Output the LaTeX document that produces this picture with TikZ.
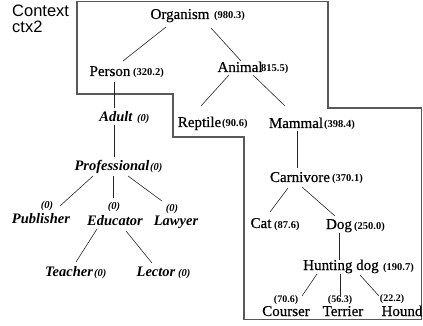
\documentclass[tikz,border=0pt]{standalone}
\usepackage{fontspec}
\setmainfont{Liberation Serif}
\newfontfamily\wordfont[FakeBold=0.5]{Liberation Serif}
\newfontfamily\ctxfont{Liberation Sans}
\begin{document}
\begin{tikzpicture}[x=1pt,y=-1pt,
  word/.style={anchor=base,inner sep=0pt,font=\wordfont\fontsize{15}{15}\selectfont},
  iword/.style={anchor=base,inner sep=0pt,font=\fontsize{14.5}{15}\selectfont\bfseries\itshape},
  weight/.style={anchor=base west,inner sep=0pt,font=\fontsize{10.5}{11}\selectfont\bfseries},
  weightc/.style={weight,anchor=base,font=\fontsize{10}{10}\selectfont\bfseries},
  iweight/.style={anchor=base west,inner sep=0pt,font=\fontsize{10.5}{11}\selectfont\bfseries\itshape},
  iweightc/.style={iweight,anchor=base},
  ctxlabel/.style={anchor=base west,inner sep=0pt,font=\ctxfont\fontsize{16.5}{16}\selectfont},
  edge/.style={draw=black!85,line width=0.6pt},
  region/.style={draw=black!65,line width=1.1pt}]
\useasboundingbox (0,0) rectangle (423,326);

% context region outline
\draw[region] (77,1.5) -- (328,1.5) -- (328,108) -- (421.5,108) -- (421.5,319.5)
  -- (244,319.5) -- (244,137) -- (173,137) -- (173,94) -- (77,94) -- cycle;

% context name
\node[ctxlabel] (ctxa) at (12,17) {Context};
\node[ctxlabel] (ctxb) at (12,33) {ctx2};

% concepts and their weights
\node[word] (org) at (180,19) {Organism};
\node[weight] (orgw) at (214,19) {(980.3)};
\node[word] (per) at (110,76) {Person};
\node[weight] (perw) at (133,76) {(320.2)};
\node[word] (ani) at (240,72) {Animal};
\node[weight] (aniw) at (261,72) {815.5)};
\node[word] (rep) at (199.5,127) {Reptile};
\node[weight] (repw) at (222,127) {(90.6)};
\node[word] (mam) at (296,128) {Mammal};
\node[weight] (mamw) at (324,128) {(398.4)};
\node[word] (car) at (300,182) {Carnivore};
\node[weight] (carw) at (332,182) {(370.1)};
\node[word] (cat) at (261,228) {Cat};
\node[weight] (catw) at (274,228) {(87.6)};
\node[word] (dog) at (339,229) {Dog};
\node[weight] (dogw) at (354,229) {(250.0)};
\node[word] (hun) at (341,270) {Hunting dog};
\node[weight] (hunw) at (383,270) {(190.7)};
\node[word] (cou) at (286,316) {Courser};
\node[weightc] (couw) at (286,302) {(70.6)};
\node[word] (ter) at (343,316) {Terrier};
\node[weightc] (terw) at (340,302) {(56.3)};
\node[word] (hou) at (402,316) {Hound};
\node[weightc] (houw) at (392,301) {(22.2)};

\node[iword] (adu) at (116,122) {Adult};
\node[iweight] (aduw) at (137,122) {(0)};
\node[iword] (pro) at (112,171) {Professional};
\node[iweight] (prow) at (150,171) {(0)};
\node[iword] (pub) at (41,223) {Publisher};
\node[iweightc] (pubw) at (47,208) {(0)};
\node[iword] (edu) at (115,225) {Educator};
\node[iweightc] (eduw) at (114,209) {(0)};
\node[iword] (law) at (176,225) {Lawyer};
\node[iweightc] (laww) at (172,211) {(0)};
\node[iword] (tea) at (69,276) {Teacher};
\node[iweight] (teaw) at (94,276) {(0)};
\node[iword] (lec) at (156,276) {Lector};
\node[iweight] (lecw) at (178,276) {(0)};

% subconcept links
\draw[edge] ([shift={(-14,8)}]org.base) -- ([shift={(13,-15)}]per.base);
\draw[edge] ([shift={(31,9)}]org.base) -- ([shift={(1,-11)}]ani.base);
\draw[edge] ([shift={(4,6)}]per.base) -- ([shift={(-2,-14)}]adu.base);
\draw[edge] ([shift={(-2,3)}]adu.base) -- ([shift={(2,-14)}]pro.base);
\draw[edge] ([shift={(-19,5)}]pro.base) -- ([shift={(19,-17)}]pub.base);
\draw[edge] ([shift={(1,5)}]pro.base) -- ([shift={(-2,-27)}]edu.base);
\draw[edge] ([shift={(16,5)}]pro.base) -- ([shift={(-14,-24)}]law.base);
\draw[edge] ([shift={(-18,4)}]edu.base) -- ([shift={(7,-14)}]tea.base);
\draw[edge] ([shift={(11,6)}]edu.base) -- ([shift={(-4,-13)}]lec.base);
\draw[edge] ([shift={(-11,3)}]ani.base) -- ([shift={(1.5,-21)}]rep.base);
\draw[edge] ([shift={(13,3)}]ani.base) -- ([shift={(-11,-22)}]mam.base);
\draw[edge] ([shift={(1,3)}]mam.base) -- ([shift={(-3,-14)}]car.base);
\draw[edge] ([shift={(-12,6)}]car.base) -- ([shift={(9,-16)}]cat.base);
\draw[edge] ([shift={(2,5)}]car.base) -- ([shift={(-4,-13)}]dog.base);
\draw[edge] ([shift={(0,4)}]dog.base) -- ([shift={(-2,-10)}]hun.base);
\draw[edge] ([shift={(-24,4)}]hun.base) -- ([shift={(16,-20)}]cou.base);
\draw[edge] ([shift={(-1,4)}]hun.base) -- ([shift={(-3,-19)}]ter.base);
\draw[edge] ([shift={(19,5)}]hun.base) -- ([shift={(-23,-20)}]hou.base);
\end{tikzpicture}
\end{document}
